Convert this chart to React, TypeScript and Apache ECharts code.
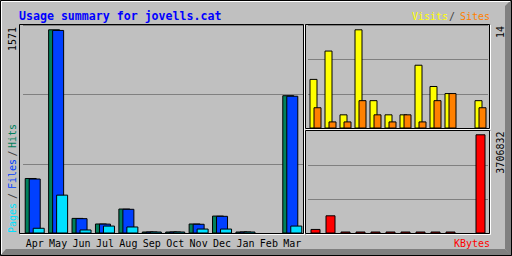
import React, { useEffect, useRef } from 'react';
import * as echarts from 'echarts';

const months = ['Apr', 'May', 'Jun', 'Jul', 'Aug', 'Sep', 'Oct', 'Nov', 'Dec', 'Jan', 'Feb', 'Mar'];
const hits = [427, 1571, 120, 77, 192, 0, 0, 77, 138, 0, null, 1064];
const files = [423, 1566, 118, 76, 190, 0, 0, 75, 136, 0, null, 1060];
const pages = [44, 299, 31, 61, 54, 0, 0, 38, 38, 0, null, 61];
const visits = [7, 11, 2, 14, 4, 2, 2, 9, 6, 5, null, 4];
const sites = [3, 1, 1, 4, 2, 1, 2, 1, 4, 5, null, 3];
const kbytes = [170000, 680000, 0, 0, 0, 0, 0, 0, 0, 0, null, 3706832];
const maxHitsLabel = '1571';
const maxVisitsLabel = '14';
const maxKbytesLabel = '3706832';

const MONO = '"DejaVu Sans Mono", "Liberation Mono", monospace';

const hidden = { show: false };

function yAxis(gridIndex: number, max: number) {
  return {
    type: 'value', gridIndex, min: 0, max, interval: max / 3,
    axisLabel: hidden, axisLine: hidden, axisTick: hidden,
    splitLine: { show: true, lineStyle: { color: '#808080', width: 1 } },
  };
}

function xAxis(gridIndex: number, showLabels: boolean) {
  return {
    type: 'category', gridIndex, data: months,
    axisLine: hidden, axisTick: hidden, splitLine: hidden,
    axisLabel: showLabels
      ? { show: true, interval: 0, color: '#000', fontFamily: MONO, fontSize: 10, margin: 5 }
      : hidden,
  };
}

function bar(x: number, data: (number | null)[], color: string, width: number, gap: string) {
  return {
    type: 'bar', xAxisIndex: x, yAxisIndex: x, data, barWidth: width, barGap: gap,
    barMinHeight: 2, silent: true,
    itemStyle: { color, borderColor: '#000', borderWidth: 1 },
    z: 3,
  };
}

function txt(text: string, x: number, y: number, fill: string, align: string, rot = 0, font = `10px ${MONO}`) {
  return {
    type: 'text', x, y, rotation: rot, z: 20, silent: true,
    style: { text, fill, font, align, verticalAlign: 'middle' },
  };
}

export default function App() {
  const ref = useRef<HTMLDivElement>(null);
  useEffect(() => {
    const chart = echarts.init(ref.current!, null, { renderer: 'svg' });
    const leftMax = 1571 * 208.5 / 204.2;
    const visMax = 14 * 103.5 / 99.2;
    const kbMax = 3706832 * 103 / 99.2;
    const R = Math.PI / 2;
    chart.setOption({
      animation: false,
      backgroundColor: '#C0C0C0',
      grid: [
        { left: 23, top: 25, width: 281, height: 208.5 },
        { left: 308, top: 25, width: 180, height: 103.5 },
        { left: 308, top: 130.5, width: 180, height: 103 },
      ],
      xAxis: [xAxis(0, true), xAxis(1, false), xAxis(2, false)],
      yAxis: [yAxis(0, leftMax), yAxis(1, visMax), yAxis(2, kbMax)],
      series: [
        bar(0, hits, '#00805C', 12, '-66.67%'),
        bar(0, files, '#0040FF', 12, '-66.67%'),
        bar(0, pages, '#00E0FF', 12, '-66.67%'),
        bar(1, visits, '#FFFF00', 8, '-50%'),
        bar(1, sites, '#FF8000', 8, '-50%'),
        bar(2, kbytes, '#FF0000', 10, '0%'),
      ],
      graphic: [
        // bevel
        { type: 'polygon', z: 1, silent: true, shape: { points: [[505, 6], [512, -1], [512, 257], [505, 249]] }, style: { fill: '#808080' } },
        { type: 'polygon', z: 1, silent: true, shape: { points: [[-1, 257], [6, 249], [505, 249], [512, 256]] }, style: { fill: '#808080' } },
        { type: 'polyline', z: 1, silent: true, shape: { points: [[1.5, 254], [1.5, 1.5], [510, 1.5]] }, style: { stroke: '#FFFFFF', lineWidth: 1, fill: null } },
        { type: 'rect', z: 1, silent: true, shape: { x: 0.5, y: 0.5, width: 511, height: 255 }, style: { stroke: '#000', lineWidth: 1, fill: null } },
        // plot boxes
        { type: 'rect', z: 2, silent: true, shape: { x: 19.5, y: 24.5, width: 284, height: 209 }, style: { stroke: '#000', lineWidth: 1, fill: null } },
        { type: 'polyline', z: 2, silent: true, shape: { points: [[304.5, 25], [304.5, 234.5], [20, 234.5]] }, style: { stroke: '#FFFFFF', lineWidth: 1, fill: null } },
        { type: 'rect', z: 2, silent: true, shape: { x: 305.5, y: 24.5, width: 184, height: 104 }, style: { stroke: '#000', lineWidth: 1, fill: null } },
        { type: 'polyline', z: 2, silent: true, shape: { points: [[490.5, 25], [490.5, 129.5], [306, 129.5]] }, style: { stroke: '#FFFFFF', lineWidth: 1, fill: null } },
        { type: 'rect', z: 2, silent: true, shape: { x: 305.5, y: 130.5, width: 184, height: 103 }, style: { stroke: '#000', lineWidth: 1, fill: null } },
        { type: 'polyline', z: 2, silent: true, shape: { points: [[490.5, 131], [490.5, 234.5], [306, 234.5]] }, style: { stroke: '#FFFFFF', lineWidth: 1, fill: null } },
        // title
        txt('Usage summary for jovells.cat', 19, 15.5, '#0000FF', 'left', 0, `bold 11.6px ${MONO}`),
        // top-right legend
        txt('Visits', 412, 16.5, '#FFFF00', 'left'),
        txt('/', 452, 16.5, '#404040', 'center'),
        txt('Sites', 490, 16.5, '#FF8000', 'right'),
        // kbytes legend
        txt('KBytes', 490, 243, '#FF0000', 'right'),
        // left legend (rotated)
        txt('Pages', 12.5, 233, '#00E0FF', 'left', R),
        txt('/', 12.5, 196, '#404040', 'center', R),
        txt('Files', 12.5, 189, '#0040FF', 'left', R),
        txt('/', 12.5, 153.5, '#404040', 'center', R),
        txt('Hits', 12.5, 148, '#00805C', 'left', R),
        // max labels
        txt(maxHitsLabel, 12.5, 27, '#000', 'right', R),
        txt(maxVisitsLabel, 500, 26, '#000', 'right', R),
        txt(maxKbytesLabel, 500, 131.5, '#000', 'right', R),
      ],
    });
    return () => chart.dispose();
  }, []);
  return <div ref={ref} style={{ position: 'fixed', left: 0, top: 0, width: 512, height: 256 }} />;
}
